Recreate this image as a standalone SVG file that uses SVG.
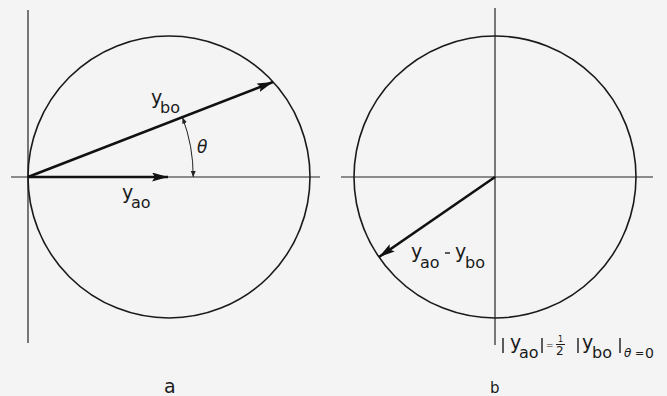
<svg xmlns="http://www.w3.org/2000/svg" width="667" height="396" viewBox="0 0 667 396">
<style>
.ax{stroke:#222;stroke-width:1.2;fill:none}
.cir{stroke:#1a1a1a;stroke-width:1.6;fill:none}
.vec{stroke:#111;stroke-width:2.6;fill:none}
.arc{stroke:#222;stroke-width:1;fill:none}
text{font-family:"DejaVu Sans","Liberation Sans",sans-serif;fill:#1a1a1a}
.y{font-size:19px}
.s{font-size:16px}
.bar{stroke:#1a1a1a;stroke-width:1.4}
</style>
<defs>
<marker id="ah" markerUnits="userSpaceOnUse" markerWidth="18" markerHeight="10" refX="16" refY="4.5" orient="auto">
<path d="M0,0 L16,4.5 L0,9 L3,4.5 z" fill="#111"/>
</marker>
<marker id="sh" markerUnits="userSpaceOnUse" markerWidth="8" markerHeight="6" refX="6" refY="2.5" orient="auto-start-reverse">
<path d="M0,0 L6,2.5 L0,5 z" fill="#222"/>
</marker>
</defs>
<rect width="667" height="396" fill="#f4f4f4"/>

<g id="panel-a">
<line class="ax" x1="28" y1="10" x2="28" y2="343"/>
<line class="ax" x1="11" y1="177" x2="320" y2="177"/>
<circle class="cir" cx="169" cy="177" r="141"/>
</g>

<g id="panel-b">
<line class="ax" x1="495" y1="8" x2="495" y2="345"/>
<line class="ax" x1="341" y1="177" x2="653" y2="177"/>
<circle class="cir" cx="495" cy="177" r="141"/>
</g>

<g id="connectors">
<line class="vec" x1="28" y1="177" x2="273" y2="82" marker-end="url(#ah)"/>
<line class="vec" x1="28" y1="177" x2="168" y2="177" marker-end="url(#ah)"/>
<path class="arc" d="M193.2,177 A165,165 0 0 0 182.5,117.5" marker-start="url(#sh)" marker-end="url(#sh)"/>
<line class="vec" x1="495" y1="177" x2="379" y2="257" marker-end="url(#ah)"/>
</g>

<g id="labels-a">
<text class="y" x="151" y="104">y</text><text class="s" x="160" y="113">bo</text>
<text class="y" x="122" y="199">y</text><text class="s" x="131" y="208">ao</text>
<text x="197" y="153" font-size="17" font-style="italic">θ</text>
<text x="164" y="393" font-size="19">a</text>
</g>

<g id="labels-b">
<text class="y" x="411" y="258">y</text><text class="s" x="420" y="268">ao</text>
<line class="bar" x1="445" y1="253" x2="450" y2="253"/>
<text class="y" x="455" y="258">y</text><text class="s" x="465" y="268">bo</text>
<text x="490" y="393" font-size="15">b</text>
</g>

<g id="formula">
<line class="bar" x1="503" y1="338" x2="503" y2="353"/>
<text class="y" x="510" y="349">y</text><text class="s" x="519" y="358">ao</text>
<line class="bar" x1="542" y1="338" x2="542" y2="353"/>
<text x="546" y="348" font-size="9">=</text>
<text x="558" y="342" font-size="8">1</text>
<line x1="556" y1="344.5" x2="565" y2="344.5" stroke="#1a1a1a" stroke-width="1"/>
<text x="556" y="355" font-size="12">2</text>
<line class="bar" x1="578" y1="338" x2="578" y2="353"/>
<text class="y" x="582" y="349">y</text><text class="s" x="592" y="358">bo</text>
<line class="bar" x1="620" y1="338" x2="620" y2="353"/>
<text x="624" y="357" font-size="12" font-style="italic">θ</text>
<text x="635" y="357" font-size="11">=</text>
<text x="645" y="358" font-size="14">0</text>
</g>
</svg>
